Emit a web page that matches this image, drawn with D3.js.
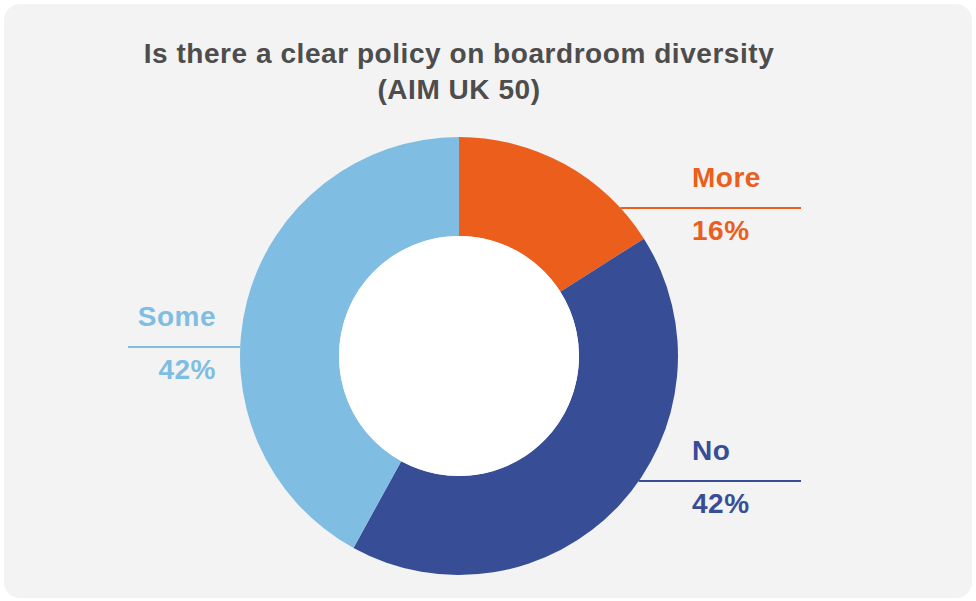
<!DOCTYPE html>
<html>
<head>
<meta charset="utf-8">
<script src="https://cdn.jsdelivr.net/npm/d3@7"></script>
<style>
  html, body { margin: 0; padding: 0; background: #ffffff; }
  svg { display: block; }
  text { font-family: "Liberation Sans", Arial, Helvetica, sans-serif; font-weight: bold; }
</style>
</head>
<body>
<svg id="chart" width="976" height="601"></svg>
<script>
// ---- data ----
const titleLines = ["Is there a clear policy on boardroom diversity", "(AIM UK 50)"];
const categories = ["More", "No", "Some"];
const values = [16, 42, 42];
const colors = ["#EB5E1C", "#374E97", "#7FBDE2"];

// ---- layout ----
const W = 976, H = 601;
const cx = 459, cy = 356;
const outerR = 219, innerR = 120;

const svg = d3.select("#chart");

svg.append("rect")
  .attr("x", 4).attr("y", 4)
  .attr("width", W - 8).attr("height", H - 7)
  .attr("rx", 16).attr("ry", 16)
  .attr("fill", "#F3F3F3");

svg.append("g").selectAll("text")
  .data(titleLines)
  .join("text")
  .attr("x", cx)
  .attr("y", (d, i) => 63 + i * 36)
  .attr("text-anchor", "middle")
  .attr("font-size", 28)
  .attr("letter-spacing", 0.55)
  .attr("fill", "#4D4D4D")
  .text(d => d);

const data = categories.map((c, i) => ({ name: c, value: values[i], color: colors[i] }));

const pie = d3.pie().sort(null).value(d => d.value);
const arc = d3.arc().innerRadius(innerR).outerRadius(outerR);
const arcs = pie(data);

const g = svg.append("g").attr("transform", `translate(${cx},${cy})`);
g.selectAll("path")
  .data(arcs)
  .join("path")
  .attr("d", arc)
  .attr("fill", d => d.data.color);

g.append("circle").attr("r", innerR).attr("fill", "#ffffff");

// label placement: leader line at a given y offset, running from the ring edge outward
const labelSpec = {
  More: { lineY: 208, side: 1, lineEnd: 801, textX: 692, anchor: "start" },
  No:   { lineY: 481, side: 1, lineEnd: 801, textX: 692, anchor: "start" },
  Some: { lineY: 347, side: -1, lineEnd: 128, textX: 216, anchor: "end" }
};

const labels = svg.append("g");
arcs.forEach(a => {
  const s = labelSpec[a.data.name];
  const dy = s.lineY - cy;
  const dx = Math.sqrt(outerR * outerR - dy * dy);
  const x0 = cx + s.side * dx;
  labels.append("line")
    .attr("x1", x0).attr("y1", s.lineY)
    .attr("x2", s.lineEnd).attr("y2", s.lineY)
    .attr("stroke", a.data.color)
    .attr("stroke-width", 2.2);
  labels.append("text")
    .attr("x", s.textX).attr("y", s.lineY - 21)
    .attr("text-anchor", s.anchor)
    .attr("font-size", 28)
    .attr("letter-spacing", 0.5)
    .attr("fill", a.data.color)
    .text(a.data.name);
  labels.append("text")
    .attr("x", s.textX).attr("y", s.lineY + 32)
    .attr("text-anchor", s.anchor)
    .attr("font-size", 28)
    .attr("letter-spacing", 0.5)
    .attr("fill", a.data.color)
    .text(Math.round(a.data.value) + "%");
});
</script>
</body>
</html>
